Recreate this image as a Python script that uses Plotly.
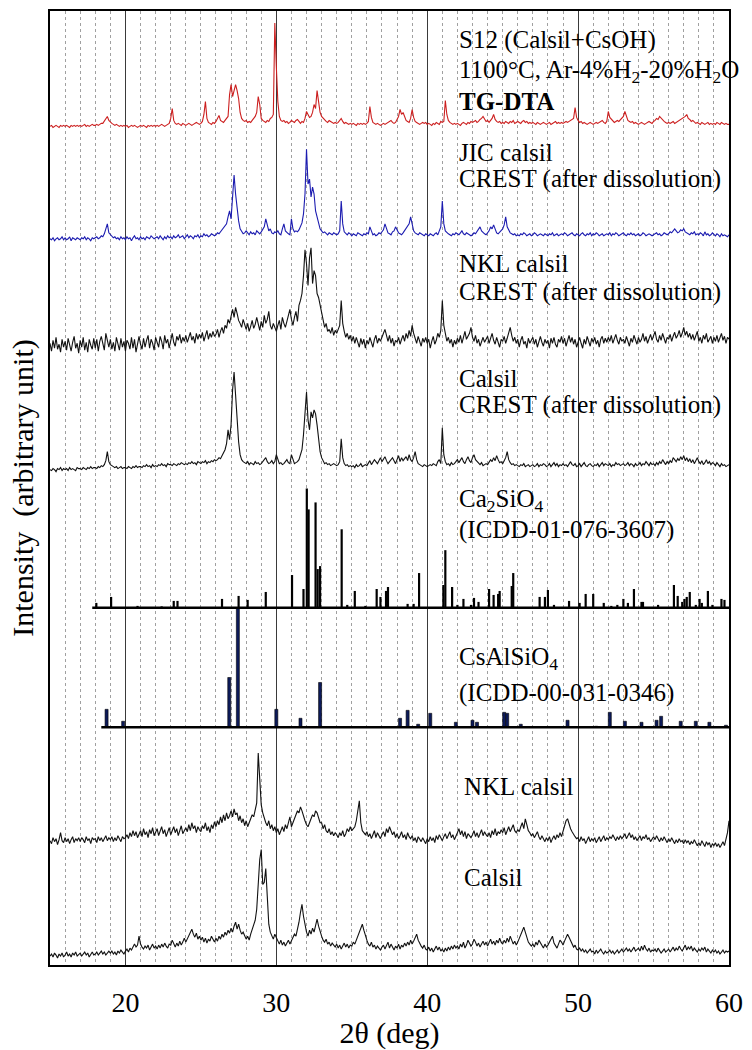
import numpy as np
import plotly.graph_objects as go

# ---------------------------------------------------------------- scan grid
TWO_THETA_START = 15.0
TWO_THETA_STEP = 0.1

# ---------------------------------------------------------------- measured patterns
# intensities (arbitrary units) on the 0.1 deg grid, 15.0 ... 60.0 deg
S12_TG_DTA = [
    0, 1, -1, 0, 1, 0, -1, 1, 0, 1,
    0, 1, 0, -1, 1, 0, 1, 0, 1, 0,
    1, 0, 1, 2, 0, 1, 0, 1, 2, 1,
    1, 2, 1, 2, 3, 3, 5, 7, 10, 6,
    4, 3, 2, 1, 2, 1, 0, 1, 0, 1,
    0, 1, -1, 0, 1, 0, 1, 0, -1, 0,
    1, 0, 1, 0, -1, 1, 0, 1, 0, 1,
    0, 1, 0, 1, 2, 1, 0, 1, 2, 3,
    8, 18, 6, 3, 2, 3, 2, 1, 3, 2,
    1, 2, 3, 2, 1, 2, 3, 4, 3, 2,
    3, 5, 12, 25, 8, 4, 3, 2, 4, 3,
    5, 9, 11, 6, 5, 4, 6, 8, 10, 32,
    42, 30, 38, 42, 36, 28, 14, 8, 6, 5,
    6, 4, 5, 4, 6, 8, 10, 14, 30, 22,
    8, 6, 5, 4, 6, 5, 8, 9, 12, 104,
    60, 25, 10, 6, 5, 6, 4, 5, 3, 4,
    6, 5, 4, 6, 7, 5, 3, 5, 4, 8,
    15, 12, 9, 10, 14, 22, 18, 36, 26, 14,
    10, 8, 6, 5, 4, 6, 5, 4, 3, 4,
    3, 4, 6, 8, 5, 3, 4, 3, 2, 3,
    2, 3, 2, 1, 3, 2, 3, 2, 3, 2,
    3, 5, 20, 9, 4, 3, 2, 3, 2, 1,
    2, 3, 2, 3, 4, 5, 6, 4, 3, 4,
    7, 10, 17, 12, 14, 10, 6, 5, 4, 8,
    17, 9, 5, 4, 3, 2, 3, 4, 3, 4,
    2, 3, 2, 1, 3, 2, 4, 3, 2, 5,
    4, 5, 26, 12, 6, 4, 3, 2, 3, 2,
    3, 2, 1, 3, 4, 3, 2, 4, 3, 5,
    4, 5, 6, 4, 5, 7, 8, 10, 7, 5,
    6, 4, 6, 8, 12, 7, 5, 4, 5, 3,
    4, 3, 5, 4, 3, 5, 4, 6, 3, 4,
    5, 4, 3, 5, 6, 4, 5, 3, 4, 3,
    4, 3, 2, 4, 3, 2, 3, 4, 3, 2,
    3, 4, 2, 3, 4, 5, 3, 4, 3, 4,
    3, 4, 5, 4, 5, 6, 7, 8, 19, 9,
    6, 4, 5, 3, 4, 3, 2, 3, 4, 3,
    2, 3, 4, 3, 4, 5, 6, 4, 3, 5,
    15, 9, 7, 5, 4, 5, 6, 5, 7, 8,
    10, 15, 9, 6, 5, 4, 5, 3, 4, 3,
    2, 3, 4, 3, 2, 3, 4, 5, 4, 3,
    5, 6, 8, 7, 10, 8, 6, 5, 4, 3,
    4, 3, 4, 5, 3, 4, 5, 6, 7, 8,
    9, 10, 12, 8, 7, 5, 6, 4, 3, 4,
    3, 2, 4, 3, 2, 3, 4, 2, 3, 2,
    3, 2, 4, 3, 2, 4, 3, 2, 3, 2,
    2,
]

JIC_CREST = [
    0, -1, 1, -2, 0, 1, -1, 0, 2, -1,
    1, -1, 0, 2, -2, 1, 0, -1, 1, 0,
    -1, 1, 0, 2, -1, 1, 0, -2, 1, 0,
    1, 2, 0, 1, 3, 2, 5, 9, 15, 6,
    4, 3, 1, 2, 0, 1, -1, 2, 0, 1,
    -1, 2, 0, 1, -2, 1, 3, 0, 1, -1,
    2, 0, 1, -1, 2, 1, 0, 3, 1, 0,
    1, 2, 0, 3, 1, -1, 2, 0, 3, 1,
    2, 0, 3, 1, 2, 4, 1, 2, 3, 0,
    2, 4, 1, 3, 2, 0, 3, 2, 4, 1,
    3, 2, 5, 3, 4, 2, 3, 5, 4, 3,
    4, 6, 5, 7, 8, 10, 12, 15, 22, 28,
    20, 40, 64, 45, 30, 18, 10, 7, 5, 6,
    8, 6, 4, 7, 5, 6, 4, 8, 6, 5,
    7, 9, 12, 20, 14, 8, 10, 6, 5, 7,
    6, 8, 5, 4, 10, 15, 8, 6, 5, 4,
    20, 10, 7, 8, 7, 9, 12, 16, 25, 45,
    90, 55, 60, 42, 52, 45, 28, 22, 15, 10,
    8, 6, 7, 5, 4, 6, 5, 4, 6, 5,
    4, 5, 8, 38, 15, 7, 5, 4, 6, 5,
    3, 5, 4, 3, 6, 5, 4, 3, 5, 4,
    6, 5, 12, 7, 4, 5, 3, 4, 6, 5,
    7, 9, 15, 10, 6, 5, 4, 7, 8, 12,
    9, 6, 5, 4, 6, 8, 10, 12, 15, 22,
    14, 8, 6, 5, 4, 6, 5, 4, 3, 5,
    4, 3, 5, 4, 3, 5, 6, 4, 8, 12,
    38, 15, 8, 6, 5, 4, 3, 5, 4, 6,
    5, 4, 6, 8, 5, 4, 6, 5, 4, 3,
    4, 6, 5, 7, 10, 12, 8, 6, 5, 4,
    6, 8, 12, 10, 14, 9, 6, 5, 7, 8,
    10, 14, 22, 12, 8, 6, 5, 4, 5, 3,
    4, 3, 5, 4, 6, 5, 3, 4, 5, 3,
    4, 6, 5, 3, 4, 5, 4, 3, 5, 4,
    3, 5, 4, 6, 3, 4, 5, 3, 4, 5,
    4, 6, 5, 3, 4, 5, 6, 4, 3, 5,
    4, 3, 5, 6, 4, 3, 5, 4, 6, 3,
    5, 4, 6, 5, 3, 4, 5, 3, 4, 5,
    4, 6, 3, 5, 4, 6, 5, 3, 4, 5,
    6, 4, 3, 5, 4, 6, 4, 5, 3, 4,
    5, 3, 4, 6, 5, 3, 4, 5, 4, 3,
    4, 5, 6, 4, 5, 3, 4, 6, 5, 4,
    5, 7, 6, 8, 10, 8, 6, 7, 9, 8,
    10, 7, 6, 5, 4, 6, 5, 7, 4, 5,
    4, 6, 5, 3, 7, 4, 5, 3, 4, 6,
    4, 3, 5, 4, 2, 5, 3, 4, 3, 2,
    4,
]

NKL_CREST = [
    2, -6, 5, -3, 8, -4, 1, -7, 6, -2,
    4, -5, 7, -1, -6, 3, 9, -3, 2, -8,
    5, -2, 8, -5, 3, -7, 6, 0, -4, 7,
    -3, 6, -6, 4, 9, 2, -5, 12, 5, -2,
    6, -4, 3, -6, 8, 1, -5, 7, -2, 4,
    -6, 5, 2, -4, 8, -3, 6, -7, 3, 9,
    1, -4, 7, -2, 5, 10, -3, 6, 2, -5,
    8, 3, -2, 9, 4, -4, 10, 2, 6, -3,
    7, 12, 3, -1, 9, 5, 11, 2, 8, 4,
    10, 3, 8, 13, 5, 9, 2, 12, 6, 11,
    7, 13, 4, 10, 15, 6, 12, 8, 14, 9,
    11, 16, 8, 14, 18, 12, 20, 17, 26, 22,
    30, 36, 28, 38, 32, 25, 22, 18, 26, 20,
    16, 22, 14, 19, 25, 17, 21, 28, 20, 15,
    24, 18, 30, 22, 26, 34, 20, 16, 22, 18,
    14, 20, 25, 16, 28, 22, 18, 24, 30, 36,
    26, 20, 28, 34, 24, 40, 45, 52, 70, 96,
    82, 60, 88, 98, 62, 75, 70, 52, 48, 40,
    30, 26, 18, 22, 14, 16, 12, 18, 10, 15,
    12, 16, 20, 45, 22, 14, 8, 12, 6, 10,
    4, 9, 2, 8, 3, -2, 7, 1, 6, -3,
    5, 1, 8, 3, -2, 6, 10, 2, 7, 4,
    9, 12, 16, 8, 4, 10, 2, 7, -1, 5,
    3, 8, 1, 6, 10, 4, 12, 7, 15, 9,
    20, 12, 6, 2, 9, 4, -1, 7, 3, 8,
    2, 6, -3, 4, 9, 1, 5, 12, 8, 15,
    45, 20, 10, 4, 8, 2, 6, -2, 5, 1,
    7, 3, 10, 2, 8, 14, 6, 9, 12, 18,
    8, 4, 10, 2, 6, -1, 5, 8, 3, 6,
    9, 2, 7, 12, 5, 1, 8, 3, -2, 6,
    4, 9, 2, 7, 12, 18, 10, 4, 8, 2,
    6, -2, 5, 9, 1, 4, -3, 7, 2, 5,
    8, 1, 6, -2, 4, 9, 3, -1, 6, 2,
    5, -3, 7, 2, 8, 1, -2, 6, 3, 9,
    2, 7, -1, 5, 10, 3, 8, 1, 6, -2,
    4, 8, 2, -3, 6, 1, 9, 4, -1, 7,
    3, 8, 1, 5, -2, 6, 9, 2, 7, 3,
    8, 4, 10, 2, 6, 11, 5, 1, 8, 4,
    6, 2, 9, 4, -1, 7, 3, 10, 5, 1,
    8, 3, 6, 12, 4, 9, 2, 7, 11, 5,
    9, 14, 6, 3, 10, 5, 12, 7, 2, 8,
    6, 11, 4, 9, 13, 7, 10, 15, 8, 12,
    18, 10, 14, 8, 12, 6, 11, 5, 9, 14,
    4, 8, 2, 10, 6, 12, 3, 7, 9, 2,
    8, 4, 10, 3, 7, 12, 5, 9, 2, 8,
    6,
]

CALSIL_CREST = [
    0, -1, 1, 0, -2, 1, 0, 2, -1, 1,
    0, 1, -1, 2, 0, 1, 0, -1, 2, 1,
    1, 0, 2, 1, 0, 2, 1, 3, 1, 2,
    2, 1, 3, 2, 4, 3, 5, 9, 18, 8,
    5, 4, 3, 2, 3, 1, 2, 3, 1, 2,
    2, 1, 3, 2, 1, 3, 2, 4, 2, 3,
    3, 2, 4, 3, 5, 3, 4, 2, 5, 3,
    4, 3, 5, 4, 6, 4, 5, 3, 6, 5,
    5, 4, 6, 5, 4, 6, 5, 7, 6, 5,
    6, 5, 7, 6, 8, 6, 7, 5, 8, 7,
    6, 8, 7, 9, 6, 8, 7, 9, 8, 10,
    9, 10, 12, 11, 14, 16, 20, 26, 40, 30,
    45, 80, 98, 75, 50, 28, 15, 10, 8, 7,
    6, 8, 5, 7, 6, 5, 8, 6, 7, 5,
    6, 8, 10, 12, 8, 6, 7, 9, 6, 8,
    15, 9, 6, 7, 5, 6, 8, 10, 7, 6,
    15, 9, 6, 7, 8, 10, 14, 20, 35, 55,
    78, 50, 40, 58, 52, 60, 56, 45, 30, 18,
    12, 8, 6, 7, 5, 6, 4, 5, 6, 5,
    4, 5, 8, 31, 12, 6, 4, 5, 3, 4,
    3, 4, 2, 5, 3, 4, 6, 3, 4, 5,
    4, 6, 9, 5, 7, 10, 8, 6, 9, 12,
    8, 10, 13, 9, 6, 8, 10, 12, 9, 6,
    10, 14, 8, 12, 9, 11, 13, 9, 15, 10,
    8, 12, 18, 10, 6, 5, 4, 3, 5, 4,
    3, 4, 5, 4, 6, 5, 4, 8, 10, 6,
    42, 15, 8, 5, 6, 4, 7, 5, 6, 8,
    10, 7, 9, 12, 8, 6, 10, 13, 9, 7,
    12, 15, 10, 8, 6, 5, 7, 4, 5, 6,
    5, 7, 10, 8, 12, 9, 14, 10, 7, 8,
    6, 9, 12, 18, 10, 7, 5, 6, 4, 5,
    4, 3, 5, 4, 6, 3, 4, 5, 3, 4,
    5, 3, 4, 6, 3, 5, 4, 6, 5, 3,
    4, 6, 3, 5, 7, 4, 6, 3, 5, 4,
    6, 4, 5, 3, 6, 8, 5, 4, 6, 3,
    4, 6, 3, 5, 7, 4, 3, 5, 6, 4,
    3, 5, 4, 6, 3, 5, 7, 4, 6, 5,
    4, 6, 3, 5, 4, 7, 5, 6, 4, 5,
    6, 4, 5, 7, 4, 6, 5, 3, 6, 4,
    5, 7, 4, 6, 5, 8, 6, 4, 7, 5,
    6, 4, 7, 5, 8, 6, 10, 7, 5, 8,
    6, 9, 7, 12, 10, 8, 11, 9, 13, 10,
    14, 9, 12, 8, 11, 7, 10, 6, 9, 12,
    8, 6, 9, 5, 7, 10, 6, 8, 5, 7,
    6, 4, 7, 5, 3, 6, 4, 5, 3, 4,
    5,
]

NKL_CALSIL = [
    0, -3, 3, -1, 2, -4, 1, 8, 0, -2,
    3, -1, 2, -3, 1, 4, -2, 2, 0, 3,
    -1, 3, 1, -2, 4, 0, 2, -3, 3, 1,
    2, -2, 4, 0, 3, -1, 2, 5, 0, 3,
    1, 4, -1, 3, 0, 5, 2, -1, 4, 2,
    3, 6, 2, 8, 4, 10, 5, 9, 3, 7,
    10, 4, 12, 6, 9, 3, 11, 7, 13, 5,
    8, 12, 5, 10, 14, 7, 11, 4, 9, 13,
    6, 10, 14, 8, 12, 5, 9, 15, 7, 11,
    13, 9, 16, 10, 18, 12, 15, 8, 14, 11,
    9, 15, 12, 18, 10, 14, 8, 16, 12, 19,
    14, 20, 16, 24, 18, 26, 20, 28, 22, 25,
    30, 24, 32, 26, 28, 20, 25, 18, 22, 15,
    20, 14, 18, 22, 26, 24, 30, 38, 88, 60,
    36, 28, 22, 18, 15, 20, 12, 16, 10, 14,
    8, 12, 6, 10, 14, 9, 16, 12, 20, 24,
    14, 18, 22, 26, 30, 28, 34, 30, 24, 20,
    16, 14, 18, 22, 26, 24, 30, 28, 22, 18,
    18, 12, 16, 10, 8, 12, 6, 9, 5, 8,
    6, 3, 8, 5, 10, 4, 7, 12, 9, 14,
    10, 12, 14, 20, 28, 40, 18, 10, 8, 6,
    9, 4, 7, 2, 6, 10, 3, 8, 5, 2,
    6, 9, 4, 12, 8, 14, 10, 6, 9, 3,
    7, 2, 5, 9, 3, 6, 1, 8, 4, 2,
    5, 0, 3, -2, 4, 1, -1, 3, 0, -3,
    2, -1, 4, 0, 3, -2, 5, 1, 6, 3,
    0, 4, 7, 2, 5, 9, 3, 6, 1, 4,
    8, 12, 6, 10, 4, 9, 2, 7, 5, 3,
    6, 10, 4, 8, 3, 7, 11, 5, 9, 6,
    4, 8, 3, 10, 6, 12, 5, 9, 7, 11,
    8, 13, 6, 10, 14, 9, 12, 16, 10, 8,
    11, 9, 14, 18, 12, 22, 16, 10, 8, 5,
    7, 3, 6, 9, 4, 1, 5, 2, -1, 3,
    0, 4, -2, 2, 5, 1, 6, 3, 8, 4,
    10, 14, 20, 22, 16, 12, 9, 6, 4, 2,
    3, -1, 4, 0, 2, -3, 1, 4, -1, 2,
    0, 3, -2, 1, 4, -1, 2, 5, 0, 3,
    1, 4, 2, 6, 3, 0, 4, 1, 5, 2,
    4, 7, 2, 5, 8, 3, 6, 1, 4, 0,
    3, 5, 0, 4, 2, 6, 1, 3, -1, 2,
    4, 1, 5, 2, -1, 3, 0, 4, 1, -2,
    2, -1, 3, 0, -3, 1, -2, 2, -1, 0,
    -3, 1, -2, 0, -4, -1, -3, 1, -2, -5,
    -2, -5, 0, -3, -6, -1, -4, -2, -7, -3,
    -5, -2, -6, -3, -7, -4, -1, -5, 2, 8,
    20,
]

CALSIL = [
    -2, 0, -3, 1, -1, -4, 0, -2, 1, -3,
    -1, 2, -2, 0, -3, 1, -1, 2, -2, 0,
    1, -2, 0, 2, -1, 1, -3, 0, 2, -1,
    0, 2, -1, 1, 3, 0, 2, -1, 1, 3,
    1, 3, 0, 2, -1, 3, 1, 4, 2, 0,
    3, 5, 2, 6, 4, 8, 10, 7, 9, 18,
    10, 7, 5, 8, 6, 9, 4, 7, 10, 6,
    8, 5, 9, 6, 10, 7, 11, 8, 6, 10,
    9, 14, 10, 7, 11, 8, 13, 9, 12, 16,
    12, 15, 18, 22, 25, 20, 17, 21, 15, 18,
    14, 17, 12, 16, 11, 15, 13, 18, 14, 12,
    16, 13, 18, 15, 20, 17, 22, 19, 24, 21,
    26, 22, 28, 32, 25, 30, 24, 20, 22, 18,
    15, 18, 14, 20, 24, 28, 34, 45, 70, 95,
    105, 70, 72, 86, 58, 30, 22, 18, 15, 20,
    16, 12, 10, 14, 9, 12, 8, 11, 14, 10,
    13, 16, 20, 18, 24, 32, 42, 50, 38, 28,
    22, 18, 24, 20, 26, 22, 30, 35, 28, 22,
    18, 14, 12, 15, 10, 12, 8, 11, 9, 7,
    10, 6, 9, 5, 8, 11, 7, 10, 6, 9,
    8, 12, 10, 14, 18, 22, 26, 30, 24, 18,
    14, 10, 8, 12, 7, 9, 5, 8, 6, 4,
    7, 9, 5, 8, 12, 6, 10, 7, 4, 8,
    6, 10, 5, 9, 7, 11, 8, 12, 9, 14,
    10, 13, 17, 20, 14, 10, 8, 6, 9, 5,
    4, 7, 3, 6, 2, 5, 8, 4, 7, 3,
    5, 2, 6, 3, 7, 4, 8, 5, 9, 6,
    8, 5, 10, 7, 12, 6, 9, 14, 11, 8,
    10, 15, 12, 8, 11, 7, 10, 13, 9, 12,
    8, 11, 15, 10, 13, 9, 14, 11, 16, 12,
    10, 14, 11, 16, 12, 18, 14, 10, 13, 9,
    12, 16, 20, 24, 27, 22, 16, 12, 10, 8,
    10, 7, 12, 9, 14, 11, 8, 6, 10, 7,
    9, 12, 15, 18, 11, 8, 6, 10, 14, 12,
    9, 13, 16, 20, 17, 14, 10, 7, 9, 5,
    4, 6, 3, 5, 2, 4, 1, 3, 5, 2,
    3, 0, 4, 1, 3, 5, 2, 0, 3, 1,
    2, 4, 1, 3, 0, 2, 4, 1, 3, 5,
    2, 4, 6, 3, 5, 2, 4, 7, 3, 5,
    6, 3, 8, 4, 9, 5, 3, 6, 2, 4,
    3, 5, 2, 6, 4, 1, 3, 5, 2, 4,
    5, 2, 4, 7, 3, 6, 4, 8, 5, 3,
    6, 9, 4, 7, 5, 8, 3, 6, 4, 2,
    5, 3, 6, 4, 7, 2, 5, 3, 1, 4,
    2, 4, 1, 3, 0, 2, 4, 1, 3, 2,
    3,
]

# ---------------------------------------------------------------- reference patterns
CA2SIO4_POS = [18.07, 19.05, 20.8, 22.4, 23.2, 23.45, 26.4, 27.5, 28.1, 29.3,
               31.04, 31.8, 32.02, 32.14, 32.6, 32.74, 32.9, 34.33, 34.7, 35.2,
               35.9, 36.65, 36.9, 37.27, 37.4, 38.7, 39.1, 39.46, 41.07, 41.2,
               41.65, 42.0, 42.4, 42.9, 43.1, 43.4, 44.1, 44.4, 44.7, 44.8,
               45.6, 45.7, 47.45, 47.8, 48.0, 48.4, 49.4, 50.1, 50.5, 51.0,
               51.7, 52.2, 52.6, 53.0, 53.3, 53.7, 54.2, 54.3, 55.3, 56.35,
               56.6, 56.9, 57.05, 57.2, 57.4, 57.8, 58.05, 58.2, 58.6, 58.9,
               59.5, 59.7]
CA2SIO4_INT = [5, 11, 2, 1.5, 7, 7, 9, 12, 8, 16,
               33, 19, 120, 99, 106, 39, 42, 79, 3, 17,
               2, 19, 11, 17, 21, 4, 4, 35, 23, 58,
               21, 3, 9, 3, 10, 6, 19, 13, 14, 17,
               22, 35, 11, 11, 18, 3, 7, 5, 14, 14,
               5, 2, 3, 9, 5, 19, 6, 6, 3, 23,
               12, 6, 9, 11, 16, 3, 9, 5, 17, 3,
               9, 8]

CSALSIO4_POS = [18.75, 19.85, 26.88, 27.45, 30.0, 31.6, 32.9, 38.2, 38.7, 39.4,
                40.2, 41.9, 43.0, 43.3, 45.1, 45.3, 46.2, 49.3, 51.2, 52.1,
                53.1, 54.2, 55.2, 55.5, 56.8, 57.8, 58.7, 59.8]
CSALSIO4_INT = [18, 6, 50, 120, 18, 9, 45, 9, 17, 3,
                14, 5, 7, 5, 15, 14, 3, 7, 1, 15,
                6, 5, 7, 11, 6, 6, 5, 2]

# ---------------------------------------------------------------- stacking
PLOT_BOTTOM_PX = 968            # pixel row of the lower frame
Y_SPAN = 959                    # plot height in pixel units


def row(px):
    """Convert a pixel row (from the top of the page) into y-axis units."""
    return PLOT_BOTTOM_PX - px


patterns = [
    (S12_TG_DTA, row(125), "#cc1f1f"),
    (JIC_CREST, row(238), "#1c1cb0"),
    (NKL_CREST, row(345), "#111111"),
    (CALSIL_CREST, row(470), "#111111"),
    (NKL_CALSIL, row(843), "#111111"),
    (CALSIL, row(957), "#111111"),
]
CA_BASE = row(609)
CS_BASE = row(729)

fig = go.Figure()

for values, offset, color in patterns:
    vals = np.asarray(values, dtype=float)
    tt = TWO_THETA_START + TWO_THETA_STEP * np.arange(vals.size)
    fig.add_trace(go.Scatter(x=tt, y=vals + offset, mode="lines",
                             line=dict(color=color, width=1.1),
                             hoverinfo="skip"))

# Ca2SiO4 stick pattern
sx, sy = [], []
for p, h in zip(CA2SIO4_POS, CA2SIO4_INT):
    sx += [p, p, None]
    sy += [CA_BASE, CA_BASE + h, None]
fig.add_trace(go.Scatter(x=sx, y=sy, mode="lines",
                         line=dict(color="black", width=2.2), hoverinfo="skip"))
fig.add_trace(go.Scatter(x=[17.8, 60], y=[CA_BASE, CA_BASE], mode="lines",
                         line=dict(color="black", width=2.5), hoverinfo="skip"))

# CsAlSiO4 stick pattern
fig.add_trace(go.Bar(x=CSALSIO4_POS, y=CSALSIO4_INT, base=CS_BASE, width=0.2,
                     marker=dict(color="#0c1a5a", line=dict(color="black", width=0.6)),
                     hoverinfo="skip"))
fig.add_trace(go.Scatter(x=[18.4, 60], y=[CS_BASE, CS_BASE], mode="lines",
                         line=dict(color="black", width=2.5), hoverinfo="skip"))

# ---------------------------------------------------------------- labels
LABEL_FONT = dict(family="Liberation Serif", size=25, color="black")
labels = [
    ("S12 (Calsil+CsOH)", 42.0, 38),
    ("1100°C, Ar-4%H<sub>2</sub>-20%H<sub>2</sub>O", 42.0, 70),
    ("<b>TG-DTA</b>", 42.0, 100),
    ("JIC calsil", 42.0, 151),
    ("CREST (after dissolution)", 42.0, 178),
    ("NKL calsil", 42.0, 263),
    ("CREST (after dissolution)", 42.0, 291),
    ("Calsil", 42.0, 378),
    ("CREST (after dissolution)", 42.0, 405),
    ("Ca<sub>2</sub>SiO<sub>4</sub>", 42.0, 501),
    ("(ICDD-01-076-3607)", 42.0, 531),
    ("CsAlSiO<sub>4</sub>", 42.0, 660),
    ("(ICDD-00-031-0346)", 42.0, 695),
    ("NKL calsil", 42.3, 789),
    ("Calsil", 42.3, 880),
]
for text, x, py in labels:
    fig.add_annotation(x=x, y=row(py), text=text, showarrow=False,
                       xanchor="left", yanchor="middle", font=LABEL_FONT)

TICK_FONT = dict(family="Liberation Serif", size=28, color="black")
TITLE_FONT = dict(family="Liberation Serif", size=30, color="black")

fig.update_layout(
    width=752, height=1050, autosize=False,
    margin=dict(l=50, r=23, t=9, b=82),
    paper_bgcolor="white", plot_bgcolor="white",
    showlegend=False, barmode="overlay",
    xaxis=dict(
        range=[15, 60], tickvals=[20, 30, 40, 50, 60],
        ticks="outside", ticklen=12, tickcolor="rgba(0,0,0,0)",
        tickfont=TICK_FONT,
        showgrid=True, gridcolor="#3a3a3a", gridwidth=1,
        minor=dict(dtick=1, tick0=15, showgrid=True, gridcolor="#a0a0a0",
                   griddash="dot", gridwidth=1),
        showline=True, mirror=True, linecolor="black", linewidth=1.5,
        zeroline=False,
        title=dict(text="2θ (deg)", font=TITLE_FONT, standoff=2),
    ),
    yaxis=dict(
        range=[0, Y_SPAN], showticklabels=False, ticks="", showgrid=False,
        showline=True, mirror=True, linecolor="black", linewidth=1.5,
        zeroline=False,
        title=dict(text="Intensity  (arbitrary unit)",
                   font=dict(family="Liberation Serif", size=30, color="black"),
                   standoff=6),
    ),
)

fig.write_html("out.html")
